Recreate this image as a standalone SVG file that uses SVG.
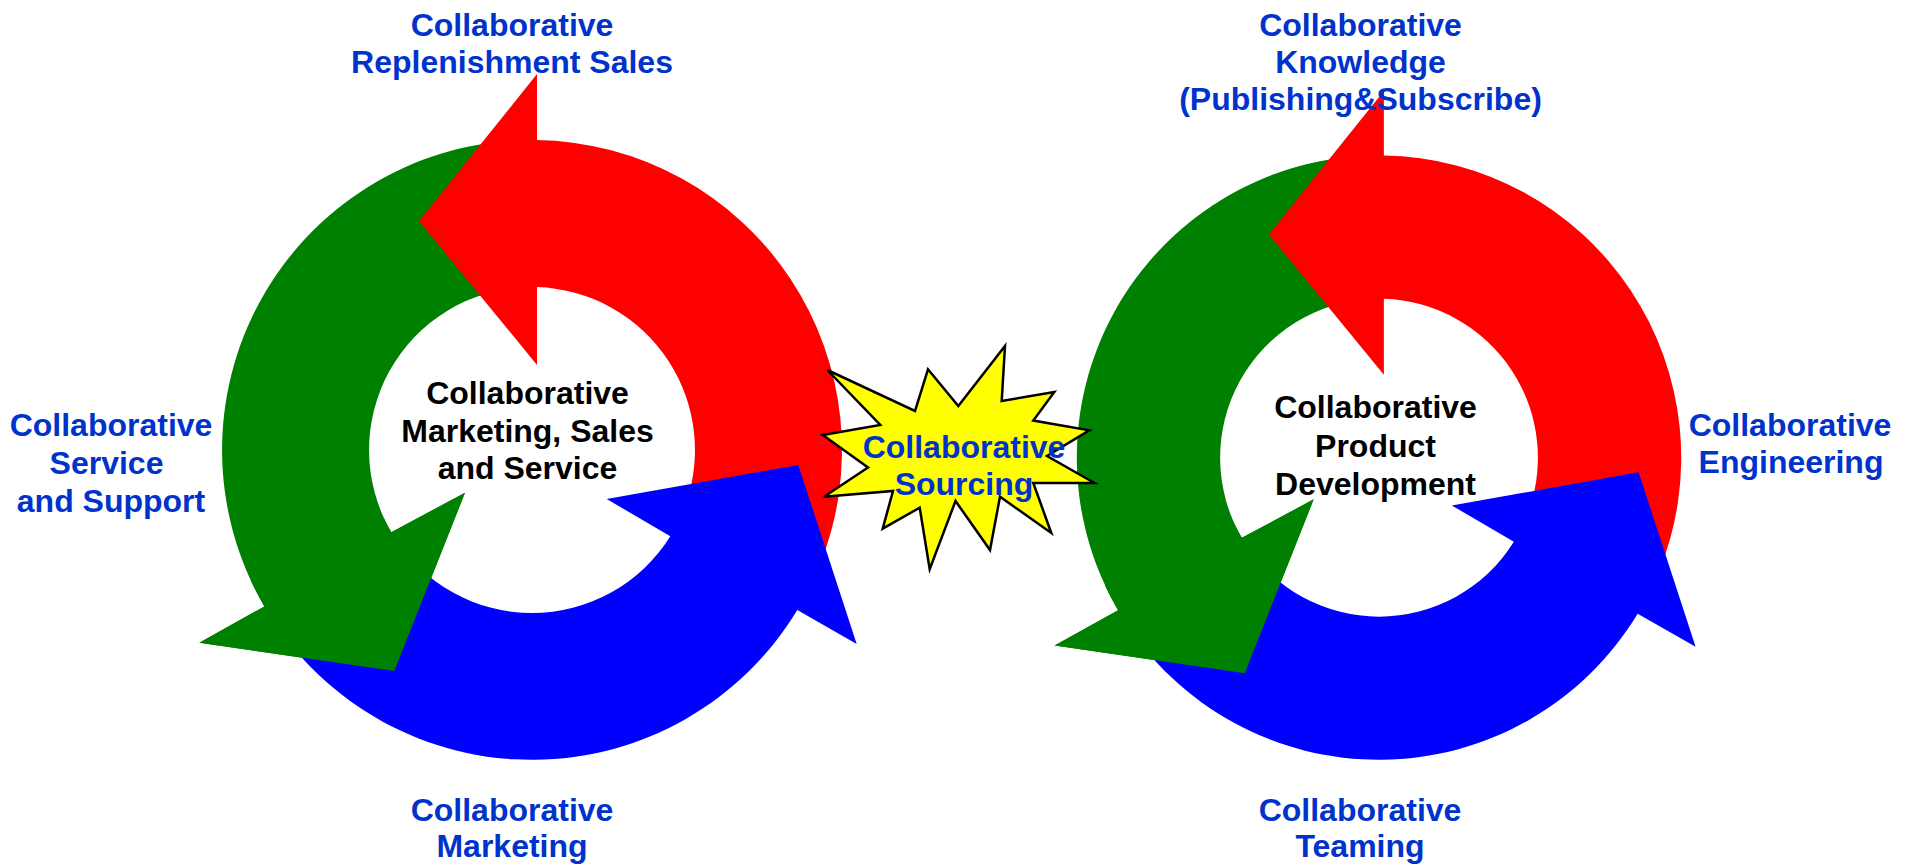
<svg xmlns="http://www.w3.org/2000/svg" xmlns:xlink="http://www.w3.org/1999/xlink" width="1916" height="865" viewBox="0 0 1916 865">
  <style>
    .lbl { font-family: "Liberation Sans", Arial, sans-serif; font-weight: bold; font-size: 32px; text-anchor: middle; fill: #0033CC; }
    .ctr { font-family: "Liberation Sans", Arial, sans-serif; font-weight: bold; font-size: 32px; text-anchor: middle; fill: #000000; }
    .red { fill: #FF0000; }
    .green { fill: #008000; }
    .blue { fill: #0000FF; }
    .star { fill: #FFFF00; stroke: #000000; stroke-width: 2.5; stroke-linejoin: miter; }
  </style>
  <defs>
    <path id="arrow-green" class="green" d="M-10.8,-309.8 A310,310 0 0 0 -267.6,156.4 L-332.7,192.7 L-137.7,221 L-67,42.7 L-140.7,82.2 A163,163 0 0 1 -5.7,-162.9 Z"/>
    <path id="arrow-red" class="red" d="M5,-376 L5,-310 A310,310 0 0 1 287.4,116.1 L151.1,61.1 A163,163 0 0 0 5,-162.9 L5,-85 L-113,-229 Z"/>
    <path id="arrow-blue" class="blue" d="M138.3,86.3 L74.7,49 L266.3,15 L324.7,194 L265.3,160 A310,310 0 0 1 -262.9,164.3 L-138.2,86.4 A163,163 0 0 0 138.3,86.3 Z"/>
    <path id="arrow-green-head" class="green" d="M-281,131 A310,310 0 0 0 -267.6,156.4 L-332.7,192.7 L-137.7,221 L-67,42.7 L-140.7,82.2 A163,163 0 0 1 -147.7,68.9 Z"/>
    <g id="cycle">
      <use xlink:href="#arrow-green" href="#arrow-green"/>
      <use xlink:href="#arrow-red" href="#arrow-red"/>
      <use xlink:href="#arrow-blue" href="#arrow-blue"/>
      <use xlink:href="#arrow-green-head" href="#arrow-green-head"/>
    </g>
  </defs>

  <rect x="0" y="0" width="1916" height="865" fill="#FFFFFF"/>

  <g id="connectors">
    <g id="cycle-left" transform="translate(532,450)">
      <use xlink:href="#cycle" href="#cycle"/>
    </g>
    <g id="cycle-right" transform="translate(1379,457.7) scale(0.975)">
      <use xlink:href="#cycle" href="#cycle"/>
    </g>
  </g>

  <g id="node-sourcing">
    <polygon class="star" points="827.3,370 915,411 928,369.3 958.3,406 1005,346 1001.7,401 1054.3,392 1033.3,420.5 1089.3,430.3 1047,456 1094.5,483 1033.3,483 1051.3,533 1000,496.7 990,550 955.5,501 929.7,569.3 919.7,507.7 882.7,528.7 893,491 824,496.8 868,467.5 822.8,435 880.3,425"/>
    <text class="lbl" x="964" y="458">Collaborative</text>
    <text class="lbl" x="964" y="495">Sourcing</text>
  </g>

  <g id="node-marketing-sales-service">
    <text class="ctr" x="527.5" y="404">Collaborative</text>
    <text class="ctr" x="527.5" y="441.5">Marketing, Sales</text>
    <text class="ctr" x="527.5" y="479">and Service</text>
  </g>

  <g id="node-product-development">
    <text class="ctr" x="1375.5" y="418">Collaborative</text>
    <text class="ctr" x="1375.5" y="456.5">Product</text>
    <text class="ctr" x="1375.5" y="495">Development</text>
  </g>

  <g id="node-replenishment-sales">
    <text class="lbl" x="512" y="36">Collaborative</text>
    <text class="lbl" x="512" y="73">Replenishment Sales</text>
  </g>

  <g id="node-service-support">
    <text class="lbl" x="111" y="436">Collaborative</text>
    <text class="lbl" x="106.5" y="474">Service</text>
    <text class="lbl" x="111" y="512">and Support</text>
  </g>

  <g id="node-marketing">
    <text class="lbl" x="512" y="821">Collaborative</text>
    <text class="lbl" x="512" y="857">Marketing</text>
  </g>

  <g id="node-knowledge">
    <text class="lbl" x="1360.5" y="36">Collaborative</text>
    <text class="lbl" x="1360.5" y="73">Knowledge</text>
    <text class="lbl" x="1360.5" y="110">(Publishing&amp;Subscribe)</text>
  </g>

  <g id="node-engineering">
    <text class="lbl" x="1790" y="435.5">Collaborative</text>
    <text class="lbl" x="1791" y="472.5">Engineering</text>
  </g>

  <g id="node-teaming">
    <text class="lbl" x="1360" y="821">Collaborative</text>
    <text class="lbl" x="1360" y="857">Teaming</text>
  </g>
</svg>
